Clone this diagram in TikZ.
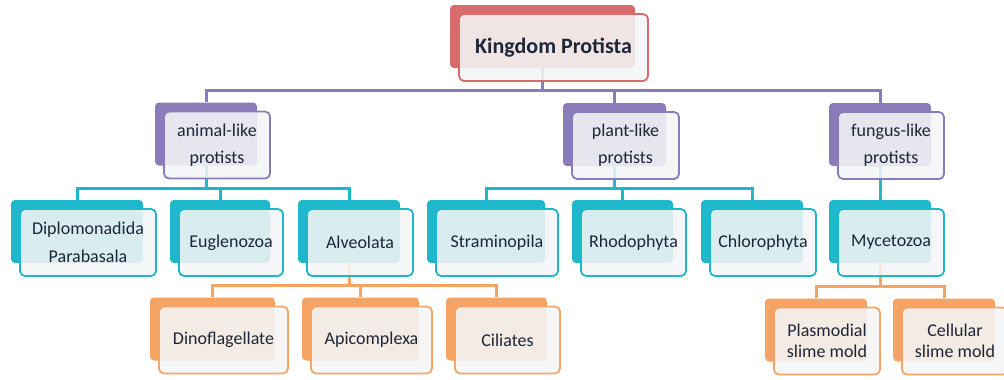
\documentclass[tikz,border=0pt]{standalone}
\usepackage{fontspec}
\setmainfont{Carlito}
\usetikzlibrary{backgrounds}

\definecolor{protred}{HTML}{D86B6B}
\definecolor{protpurple}{HTML}{8A7CB9}
\definecolor{protcyan}{HTML}{1EB7CC}
\definecolor{protorange}{HTML}{F6A463}
\definecolor{frontfill}{HTML}{F4F5F6}
\definecolor{textcol}{HTML}{1D2638}

\tikzset{
  back/.style={fill=#1, rounded corners=4pt, minimum height=63pt, inner sep=0pt},
  front/.style={draw=#1, line width=1.8pt, fill=frontfill, fill opacity=0.88, text opacity=1,
    rounded corners=5pt, minimum height=67pt, inner sep=2pt, align=center, text=textcol,
    font=\fontsize{18}{21}\selectfont},
  link/.style={draw=#1, line width=3pt}
}

% back block + front block with the text
\newcommand{\protbox}[6]{%
  \node[back=#2, minimum width=#5] (#1b) at (#3,#4) {};
  \node[front=#2, minimum width=#5+4pt] (#1) at ([shift={(11,11)}]#1b.center) {#6};
}

\begin{document}
\begin{tikzpicture}[x=1pt, y=-1pt]
  \useasboundingbox (0,0) rectangle (1004,380);

  % Kingdom
  \protbox{kingdom}{protred}{542.5}{36.5}{185pt}{\bfseries\fontsize{22}{26}\selectfont Kingdom Protista}

  % groups
  \protbox{animal}{protpurple}{206}{134}{102pt}{animal-like\\[6pt]protists}
  \protbox{plant}{protpurple}{614.5}{134.5}{103pt}{plant-like\\[6pt]protists}
  \protbox{fungus}{protpurple}{880}{134.5}{102pt}{fungus-like\\[6pt]protists}

  % phyla
  \protbox{diplo}{protcyan}{77}{231.5}{132pt}{Diplomonadida\\[7pt]Parabasala}
  \protbox{eugleno}{protcyan}{220}{231.5}{100pt}{Euglenozoa}
  \protbox{alveo}{protcyan}{349}{231.5}{102pt}{Alveolata}
  \protbox{strameno}{protcyan}{486}{231.5}{118pt}{Straminopila}
  \protbox{rhodo}{protcyan}{622.5}{231.5}{101pt}{Rhodophyta}
  \protbox{chloro}{protcyan}{752}{231.5}{102pt}{Chlorophyta}
  \protbox{myceto}{protcyan}{880}{231.5}{102pt}{Mycetozoa}

  % lower level
  \protbox{dino}{protorange}{212.5}{329}{125pt}{Dinoflagellate}
  \protbox{apico}{protorange}{360.5}{329}{117pt}{Apicomplexa}
  \protbox{cili}{protorange}{496.5}{329}{101pt}{Ciliates}
  \protbox{plasmo}{protorange}{816}{330}{102pt}{Plasmodial\\slime mold}
  \protbox{cellu}{protorange}{944}{330}{102pt}{Cellular\\slime mold}

  % connectors
  \begin{scope}[on background layer]
    \foreach \kid in {animal,plant,fungus}
      \draw[link=protpurple] (kingdomb.south) -- ++(0,22) -| (\kid b.north);
    \foreach \kid in {diplo,eugleno,alveo}
      \draw[link=protcyan] (animalb.south) -- ++(0,23) -| (\kid b.north);
    \foreach \kid in {strameno,rhodo,chloro}
      \draw[link=protcyan] (plantb.south) -- ++(0,22) -| (\kid b.north);
    \draw[link=protcyan] (fungusb.south) -- (mycetob.north);
    \foreach \kid in {dino,apico,cili}
      \draw[link=protorange] (alveob.south) -- ++(0,22) -| (\kid b.north);
    \foreach \kid in {plasmo,cellu}
      \draw[link=protorange] (mycetob.south) -- ++(0,23) -| (\kid b.north);
  \end{scope}
\end{tikzpicture}
\end{document}
